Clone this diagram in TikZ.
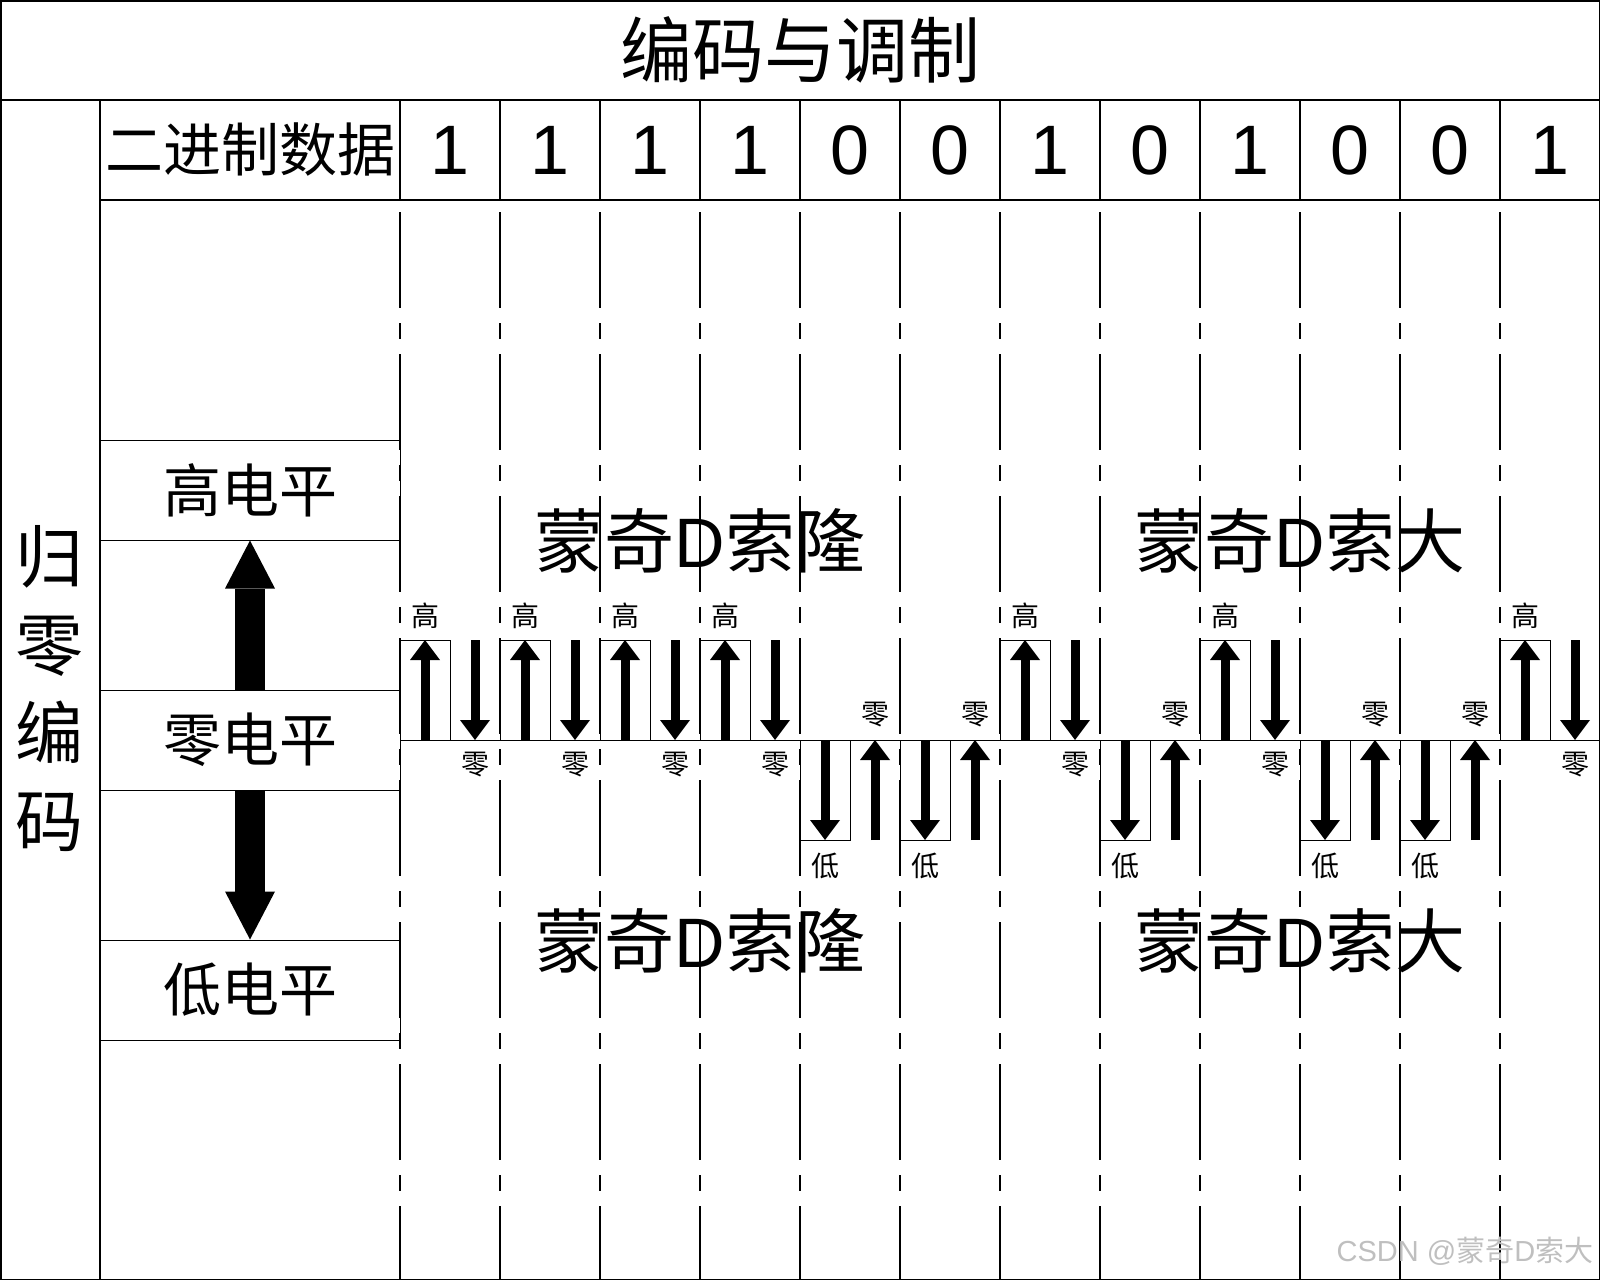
\documentclass[tikz,border=0pt]{standalone}
\usepackage{fontspec}
\usepackage{tikz}
\usetikzlibrary{arrows.meta}
\newfontfamily\cjk{Noto Sans CJK SC}
\newfontfamily\arial{Liberation Sans}
\def\dd{{\arial D}}
\tikzset{
  tablines/.style={line width=1.5pt},
  colline/.style={line width=1.2pt, dash pattern=on 96pt off 15pt on 16pt off 15pt},
  pulse/.style={line width=1pt},
  sig/.style={line width=9pt, -{Triangle[length=20pt,width=30pt,line width=0pt]}},
  bigsig/.style={line width=30pt, -{Triangle[length=48pt,width=50pt,line width=0pt]}},
  tag/.style={inner sep=0pt, font=\cjk\fontsize{28}{28}\selectfont},
  head/.style={inner sep=0pt, font=\cjk\fontsize{58}{60}\selectfont},
  levelbox/.style={draw, line width=1pt, minimum width=300pt, minimum height=100pt, inner sep=0pt, font=\cjk\fontsize{58}{60}\selectfont},
  digit/.style={inner sep=0pt, font=\arial\fontsize{70}{70}\selectfont},
  crew/.style={inner sep=0pt, font=\cjk\fontsize{70}{70}\selectfont}
}
% one bit of the return-to-zero wave, #1 = left edge, #2 = bit number
\def\hibit#1#2{
  \draw[pulse] (#1,640) rectangle (#1+50,740);
  \coordinate (zu#2) at (#1+25,740); \coordinate (hu#2) at (#1+25,640);
  \coordinate (hd#2) at (#1+75,640); \coordinate (zd#2) at (#1+75,740);
  \draw[sig] (zu#2) to (hu#2);
  \draw[sig] (hd#2) to (zd#2);
  \node[tag] (gao#2) at (#1+25,616) {高};
  \node[tag] (ling#2) at (#1+75,765) {零};
}
\def\lobit#1#2{
  \draw[pulse] (#1,740) rectangle (#1+50,840);
  \coordinate (zu#2) at (#1+25,740); \coordinate (lu#2) at (#1+25,840);
  \coordinate (ld#2) at (#1+75,840); \coordinate (zd#2) at (#1+75,740);
  \draw[sig] (zu#2) to (lu#2);
  \draw[sig] (ld#2) to (zd#2);
  \node[tag] (di#2) at (#1+25,866) {低};
  \node[tag] (ling#2) at (#1+75,715) {零};
}
\begin{document}
\begin{tikzpicture}[x=1pt,y=-1pt]
\useasboundingbox (0,0) rectangle (1600,1280);
%%% table %%%%
%% frame
\draw[tablines] (0.75,0.75) rectangle (1599.25,1279.25);
\draw[tablines] (0,100) to (1600,100);
\draw[tablines] (100,200) to (1600,200);
\draw[tablines] (100,100) to (100,1280);
\draw[tablines] (400,100) to (400,200);
\draw[tablines] (500,100) to (500,200);
\draw[tablines] (600,100) to (600,200);
\draw[tablines] (700,100) to (700,200);
\draw[tablines] (800,100) to (800,200);
\draw[tablines] (900,100) to (900,200);
\draw[tablines] (1000,100) to (1000,200);
\draw[tablines] (1100,100) to (1100,200);
\draw[tablines] (1200,100) to (1200,200);
\draw[tablines] (1300,100) to (1300,200);
\draw[tablines] (1400,100) to (1400,200);
\draw[tablines] (1500,100) to (1500,200);

%% bit columns
\draw[colline] (400,212) to (400,1280);
\draw[colline] (500,212) to (500,1280);
\draw[colline] (600,212) to (600,1280);
\draw[colline] (700,212) to (700,1280);
\draw[colline] (800,212) to (800,1280);
\draw[colline] (900,212) to (900,1280);
\draw[colline] (1000,212) to (1000,1280);
\draw[colline] (1100,212) to (1100,1280);
\draw[colline] (1200,212) to (1200,1280);
\draw[colline] (1300,212) to (1300,1280);
\draw[colline] (1400,212) to (1400,1280);
\draw[colline] (1500,212) to (1500,1280);

%% labels
\node[inner sep=0pt, font=\cjk\fontsize{72}{72}\selectfont] (title) at (800,50) {编码与调制};
\node[head] (bin) at (250,150) {二进制数据};
\node[levelbox] (high) at (250,490) {高电平};
\node[levelbox] (zero) at (250,740) {零电平};
\node[levelbox] (low) at (250,990) {低电平};
\node[inner sep=0pt, align=center, font=\cjk\fontsize{68}{88}\selectfont] (rz) at (50,689) {归\\零\\编\\码};

\node[digit] (d1) at (450,150) {1};
\node[digit] (d2) at (550,150) {1};
\node[digit] (d3) at (650,150) {1};
\node[digit] (d4) at (750,150) {1};
\node[digit] (d5) at (850,150) {0};
\node[digit] (d6) at (950,150) {0};
\node[digit] (d7) at (1050,150) {1};
\node[digit] (d8) at (1150,150) {0};
\node[digit] (d9) at (1250,150) {1};
\node[digit] (d10) at (1350,150) {0};
\node[digit] (d11) at (1450,150) {0};
\node[digit] (d12) at (1550,150) {1};

%% level arrows
\draw[bigsig] (zero.north) to (high.south);
\draw[bigsig] (zero.south) to (low.north);

%%% wave %%%%
\draw[pulse] (400,740) to (1600,740);
\hibit{400}{1}
\hibit{500}{2}
\hibit{600}{3}
\hibit{700}{4}
\lobit{800}{5}
\lobit{900}{6}
\hibit{1000}{7}
\lobit{1100}{8}
\hibit{1200}{9}
\lobit{1300}{10}
\lobit{1400}{11}
\hibit{1500}{12}

%% names
\node[crew] (zoro1) at (700,541) {蒙奇\dd 索隆};
\node[crew] (zoro2) at (700,941) {蒙奇\dd 索隆};
\node[crew] (owner1) at (1300,541) {蒙奇\dd 索大};
\node[crew] (owner2) at (1300,941) {蒙奇\dd 索大};

\node[inner sep=0pt, text=black!25, font=\cjk\fontsize{29}{29}\selectfont] (mark) at (1465,1251) {{\arial CSDN @}蒙奇\dd 索大};
\end{tikzpicture}
\end{document}
